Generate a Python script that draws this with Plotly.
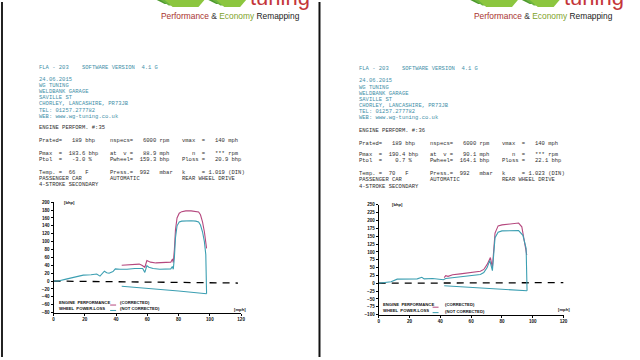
import plotly.graph_objects as go

W, H = 640, 360

# ---------------- data : run #35 (left sheet) ----------------
L_nc_x = [0, 3, 8, 13, 19, 24, 27.6, 29.7, 31, 32.5, 34, 35.5, 38, 39.5, 42.5, 47, 52, 55, 57,
          58.4, 59.7, 61, 63.7, 68, 72, 75, 76, 76.6, 77.3, 78, 79, 80.4, 82, 84.6, 88, 91,
          92.8, 94, 95.3, 96.5, 97.4, 97.9]
L_nc_y = [0, 0, 5, 10, 15, 16, 18, 12.5, 18, 25, 21, 20, 24, 31, 30, 30, 32, 33, 32,
          22, 39, 35, 32, 30, 30, 31, 37, 30, 60, 110, 140, 150, 152, 153, 153, 152,
          150, 142, 125, 100, 67, -32]
L_c_x = [43.6, 48, 52, 54.8, 56.5, 58.4, 59.7, 62, 65.5, 70, 75, 76.1, 76.6, 77.3, 78, 79,
         80.4, 82, 84.6, 88, 91, 92.8, 94, 95.3, 96.5, 97.9]
L_c_y = [40, 41, 43, 43, 40, 35, 52, 48, 46, 47, 48, 56, 47, 80, 130, 160,
         172, 176, 178, 178, 177, 175, 168, 150, 125, 83]
L_loss_x = [43.6, 60, 80, 97.9]
L_loss_y = [-13, -18, -25, -32]
L_ref_x = [0, 118]
L_ref_y = [0, -5]
L_yticks = list(range(-80, 201, 20))

# ---------------- data : run #36 (right sheet) ----------------
R_nc_x = [0, 4, 8, 12, 18, 25, 28, 29.5, 35, 42, 43.5, 48, 53, 60, 66, 68.2, 70.4, 72.1,
          73.8, 75.5, 77.5, 80, 85, 90.8, 93.6, 95.7, 96.3]
R_nc_y = [0, 2, 5, 13, 13, 14, 19, 14, 15, 11, 15, 18, 20, 24, 28, 34, 50, 73,
          40, 145, 163, 167, 168, 168, 153, 111, -24]
R_c_x = [42.5, 43.5, 45, 48, 53, 60, 66, 68.2, 70.4, 72.5, 73.8, 75.5, 77.5, 80, 85,
         90.8, 92.9, 95, 96.1]
R_c_y = [18, 24, 22, 27, 30, 34, 38, 44, 60, 82, 50, 160, 183, 186, 188,
         192, 180, 111, 90]
R_loss_x = [42.5, 60, 80, 96.3]
R_loss_y = [-8, -13, -19, -24]
R_ref_x = [0, 120]
R_ref_y = [0, 2]
R_yticks = list(range(-100, 251, 25))

X_TICKS = [0, 20, 40, 60, 80, 100, 120]

# ---------------- header values ----------------
DATE = "24.06.2015"
ADDRESS = ["WG TUNING", "WELDBANK GARAGE", "SAVILLE ST", "CHORLEY, LANCASHIRE, PR73JB",
           "TEL: 01257.277782", "WEB: www.wg-tuning.co.uk"]
RUN_NO = ["35", "36"]
PRATED = ["189", "189"]
NSPECS = ["6000", "6000"]
VMAX = ["140", "140"]
PMAX = ["183.6", "190.4"]
PTOL = ["-3.0", "0.7"]
AT_V = ["88.9", "90.1"]
PWHEEL = ["159.3", "164.1"]
PLOSS = ["20.9", "22.1"]
TEMP = ["66", "70"]
PRESS = ["992", "992"]
KDIN = ["1.019", "1.023"]

PINK = "#b5487e"
TEAL = "#3c9fb2"
HEAD_COL = "#3f8fa8"
TXT_COL = "#2e2e2e"
MONO = "Liberation Mono"

fig = go.Figure()

def lines(xs, ys, color, xa, ya, dash=None, width=1.1):
    fig.add_trace(go.Scatter(x=xs, y=ys, mode="lines", xaxis=xa, yaxis=ya,
                             line=dict(color=color, width=width, dash=dash),
                             hoverinfo="skip", showlegend=False))

lines(L_ref_x, L_ref_y, "black", "x", "y", dash="7px,6px", width=1.3)
lines(L_loss_x, L_loss_y, TEAL, "x", "y")
lines(L_c_x, L_c_y, PINK, "x", "y")
lines(L_nc_x, L_nc_y, TEAL, "x", "y")
lines(R_ref_x, R_ref_y, "black", "x2", "y2", dash="7px,6px", width=1.3)
lines(R_loss_x, R_loss_y, TEAL, "x2", "y2")
lines(R_c_x, R_c_y, PINK, "x2", "y2")
lines(R_nc_x, R_nc_y, TEAL, "x2", "y2")

ann = []
shapes = []

def px(x):
    return x / W

def py(y):
    return 1 - y / H

def txt(x, y, s, size=5.5, color=TXT_COL, family=MONO, xanchor="left", weight=None):
    f = dict(size=size, color=color, family=family)
    if weight:
        f["weight"] = weight
    ann.append(dict(x=px(x), y=py(y), xref="paper", yref="paper", text=s.replace(" ", "\u00a0"),
                    showarrow=False, xanchor=xanchor, yanchor="middle", font=f))

def panel(i, x1, x2, x3, ys_head, ys_eng, logo_x):
    # logo
    gx = logo_x
    for k, (a, b) in enumerate([(0, 40), (52, 82)]):
        for j in range(3):
            off = j * 4
            shapes.append(dict(type="path", xref="paper", yref="paper",
                               path=f"M {px(gx+a+off)} {py(-2)} L {px(gx+b+off)} {py(-2)} "
                                    f"L {px(gx+b-6+off)} {py(2+j*1.5)} L {px(gx+a+8+off)} {py(2+j*1.5)} Z",
                               fillcolor=["#4e9a2e", "#6cb33f", "#8cc63f"][j], line=dict(width=0)))
    ann.append(dict(x=px(gx + 92), y=py(10), xref="paper", yref="paper", text="tuning",
                    showarrow=False, xanchor="left", yanchor="bottom",
                    font=dict(size=22, color="#c4363a", family="Liberation Sans")))
    ann.append(dict(x=px(gx + 2), y=py(14.5), xref="paper", yref="paper",
                    text="<span style='color:#a8332f'>Performance</span> "
                         "<span style='color:#333'>&amp;</span> "
                         "<span style='color:#7fa32c'>Economy</span> "
                         "<span style='color:#222'>Remapping</span>",
                    showarrow=False, xanchor="left", yanchor="middle",
                    font=dict(size=8.4, family="Liberation Sans")))
    # header
    txt(x1, ys_head[0], "FLA - 203", color=HEAD_COL)
    txt(x1 + 44, ys_head[0], "SOFTWARE VERSION  4.1 G", color=HEAD_COL)
    for k, s in enumerate([DATE] + ADDRESS):
        txt(x1, ys_head[1] + k * 6.25, s, color=HEAD_COL)
    txt(x1, ys_eng[0], f"ENGINE PERFORM. #:{RUN_NO[i]}")
    txt(x1, ys_eng[1], f"Prated=   {PRATED[i]} bhp")
    txt(x2, ys_eng[1], f"nspecs=   {NSPECS[i]} rpm")
    txt(x3, ys_eng[1], f"vmax  =   {VMAX[i]} mph")
    txt(x1, ys_eng[2], f"Pmax  = {PMAX[i]:>6} bhp")
    txt(x2, ys_eng[2], f"at  v =   {AT_V[i]} mph")
    txt(x3, ys_eng[2], f"   n  =   *** rpm")
    txt(x1, ys_eng[3], f"Ptol  = {PTOL[i]:>6} %")
    txt(x2, ys_eng[3], f"Pwheel=  {PWHEEL[i]} bhp")
    txt(x3, ys_eng[3], f"Ploss =  {PLOSS[i]:>5} bhp")
    txt(x1, ys_eng[4], f"Temp. =  {TEMP[i]}   F")
    txt(x2, ys_eng[4], f"Press.=  {PRESS[i]}   mbar")
    txt(x3, ys_eng[4], f"k     = {KDIN[i]} (DIN)")
    txt(x1, ys_eng[5], "PASSENGER CAR")
    txt(x2, ys_eng[5], "AUTOMATIC")
    txt(x3, ys_eng[5], "REAR WHEEL DRIVE")
    txt(x1, ys_eng[6], "4-STROKE SECONDARY")

panel(0, 36, 108, 180, [66, 78.3], [127.7, 140.7, 153.3, 159.3, 173.3, 179, 184.7], 157)
panel(1, 358.5, 430, 503, [67.7, 80], [130.7, 143.3, 154.3, 160.7, 174, 180, 186.7], 473)

# chart legends and unit labels
SMALL = dict(size=4.2, family="Liberation Sans", weight="bold")
def small(x, y, s, xanchor="left"):
    ann.append(dict(x=px(x), y=py(y), xref="paper", yref="paper", text=s, showarrow=False,
                    xanchor=xanchor, yanchor="middle", font=dict(color="#111", **SMALL)))

for (lx, ly, kx, tx, ux, uy, bx, by) in [(56, 304.3, 110, 118, 233, 311.5, 61, 203),
                                          (383, 306.5, 435, 445, 559, 311.5, 392, 205)]:
    small(lx, ly, "ENGINE  PERFORMANCE")
    small(lx, ly + 6.3, "WHEEL  POWER-LOSS")
    small(tx, ly + 0.5, "(CORRECTED)")
    small(tx, ly + 7, "(NOT CORRECTED)")
    shapes.append(dict(type="line", xref="paper", yref="paper", x0=px(kx), x1=px(kx + 6),
                       y0=py(ly + 3), y1=py(ly + 3), line=dict(color=PINK, width=1)))
    shapes.append(dict(type="line", xref="paper", yref="paper", x0=px(kx), x1=px(kx + 6),
                       y0=py(ly + 8.5), y1=py(ly + 8.5), line=dict(color=TEAL, width=1)))
    small(ux, uy, "[mph]")
    small(bx, by, "[bhp]")

# separators / scan edges
shapes.append(dict(type="line", xref="paper", yref="paper", x0=px(321), x1=px(321), y0=0, y1=1,
                   line=dict(color="#111", width=2)))
shapes.append(dict(type="line", xref="paper", yref="paper", x0=px(1), x1=px(1), y0=0, y1=1,
                   line=dict(color="#222", width=2)))

axis_common = dict(showgrid=False, zeroline=False, showline=True, linecolor="black", linewidth=1,
                   ticks="outside", ticklen=2, tickwidth=1, tickcolor="black",
                   tickfont=dict(size=4.6, family="Liberation Sans", color="#111", weight="bold"))

fig.update_layout(
    width=W, height=H, autosize=False,
    margin=dict(l=0, r=0, t=0, b=0),
    paper_bgcolor="white", plot_bgcolor="rgba(0,0,0,0)",
    showlegend=False,
    xaxis=dict(domain=[53 / W, 242 / W], range=[0, 120], tickvals=X_TICKS, anchor="y", **axis_common),
    yaxis=dict(domain=[1 - 315 / H, 1 - 203 / H], range=[-80, 200], tickvals=L_yticks, anchor="x", **axis_common),
    xaxis2=dict(domain=[380.7 / W, 567 / W], range=[0, 120], tickvals=X_TICKS, anchor="y2", **axis_common),
    yaxis2=dict(domain=[1 - 317 / H, 1 - 205.7 / H], range=[-100, 250], tickvals=R_yticks, anchor="x2", **axis_common),
    annotations=ann, shapes=shapes,
)

fig.write_html("out.html", config={"displayModeBar": False},
               post_script="document.body.style.margin='0';document.body.style.overflow='hidden';")
